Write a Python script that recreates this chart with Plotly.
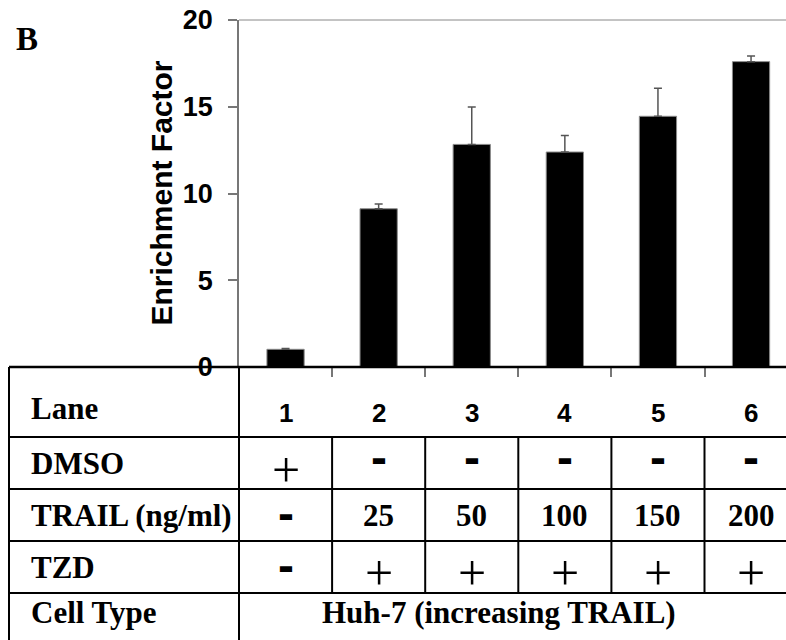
import plotly.graph_objects as go

# ---- data ----
lanes = ["1", "2", "3", "4", "5", "6"]
enrichment = [1.02, 9.12, 12.83, 12.39, 14.45, 17.6]
enrichment_err = [0.05, 0.27, 2.15, 0.96, 1.61, 0.33]
dmso = ["+", "-", "-", "-", "-", "-"]
trail = ["-", "25", "50", "100", "150", "200"]
tzd = ["-", "+", "+", "+", "+", "+"]
row_labels = ["Lane", "DMSO", "TRAIL (ng/ml)", "TZD", "Cell Type"]
cell_type = "Huh-7 (increasing TRAIL)"
y_ticks = [0, 5, 10, 15, 20]

W, H = 786, 640
L, R, T, B = 239, 0, 20, 273
PW, PH = W - L - R, H - T - B


def px(xp):
    return (xp - L) / PW


def py(yp):
    return (H - B - yp) / PH


fig = go.Figure()
fig.add_trace(go.Bar(
    x=lanes, y=enrichment, width=0.4,
    marker=dict(color="black", line=dict(color="#8a8a8a", width=1)),
    error_y=dict(type="data", array=enrichment_err, symmetric=False,
                 arrayminus=[0] * len(lanes), color="#555555",
                 thickness=1.5, width=4),
    showlegend=False,
))

shapes = []
black = "black"
shapes.append(dict(type="line", xref="paper", yref="paper", x0=px(9), x1=1,
                   y0=0, y1=0, line=dict(color=black, width=2.5)))
shapes.append(dict(type="line", xref="paper", yref="paper", x0=0, x1=1,
                   y0=1, y1=1, line=dict(color="#888888", width=1)))
for yp in [437, 489, 541, 593]:
    shapes.append(dict(type="line", xref="paper", yref="paper", x0=px(9), x1=1,
                       y0=py(yp), y1=py(yp), line=dict(color=black, width=2)))
shapes.append(dict(type="line", xref="paper", yref="paper", x0=px(9), x1=px(9),
                   y0=0, y1=py(645), line=dict(color=black, width=2)))
shapes.append(dict(type="line", xref="paper", yref="paper", x0=0, x1=0,
                   y0=0, y1=py(645), line=dict(color=black, width=2)))
for i in range(len(lanes) - 1):
    shapes.append(dict(type="line", xref="x", yref="paper", x0=i + 0.5, x1=i + 0.5,
                       y0=py(437), y1=py(593), line=dict(color=black, width=2)))

annotations = []
label_y = [408, 463, 515, 567, 612]
for lab, yp in zip(row_labels, label_y):
    annotations.append(dict(xref="paper", yref="paper", x=px(29), y=py(yp),
                            xanchor="left", yanchor="middle", text="<b>%s</b>" % lab,
                            showarrow=False,
                            font=dict(family="Liberation Serif", size=31, color="black")))

for i, ln in enumerate(lanes):
    annotations.append(dict(xref="x", yref="paper", x=i, y=py(413),
                            xanchor="center", yanchor="middle", text="<b>%s</b>" % ln,
                            showarrow=False,
                            font=dict(family="Liberation Sans", size=26, color="black")))


def cell(i, val, yc, dash_shift=-2):
    if val == "+":
        return dict(xref="x", yref="paper", x=i, y=py(yc + 6), xanchor="center",
                    yanchor="middle", text="+", showarrow=False, height=40,
                    font=dict(family="Liberation Serif", size=50, color="black"))
    if val == "-":
        return dict(xref="x", yref="paper", x=i, y=py(yc + dash_shift), xanchor="center",
                    yanchor="middle", text="<b>-</b>", showarrow=False, height=26,
                    font=dict(family="Liberation Sans", size=48, color="black"))
    return dict(xref="x", yref="paper", x=i, y=py(yc), xanchor="center",
                yanchor="middle", text="<b>%s</b>" % val, showarrow=False,
                font=dict(family="Liberation Serif", size=31, color="black"))


for i, v in enumerate(dmso):
    annotations.append(cell(i, v, 464, dash_shift=-7))
for i, v in enumerate(trail):
    annotations.append(cell(i, v, 515))
for i, v in enumerate(tzd):
    annotations.append(cell(i, v, 567))

annotations.append(dict(xref="paper", yref="paper", x=px(499), y=py(612),
                        xanchor="center", yanchor="middle", text="<b>%s</b>" % cell_type,
                        showarrow=False,
                        font=dict(family="Liberation Serif", size=31, color="black")))

annotations.append(dict(xref="paper", yref="paper", x=px(14), y=py(39),
                        xanchor="left", yanchor="middle", text="<b>B</b>", showarrow=False,
                        font=dict(family="Liberation Serif", size=33, color="black")))
annotations.append(dict(xref="paper", yref="paper", x=px(161), y=0.5,
                        xanchor="center", yanchor="middle", textangle=-90,
                        text="<b>Enrichment Factor</b>", showarrow=False,
                        font=dict(family="Liberation Sans", size=30, color="black")))

fig.update_layout(
    width=W, height=H, autosize=False,
    margin=dict(l=L, r=R, t=T, b=B, pad=0),
    paper_bgcolor="white", plot_bgcolor="white",
    shapes=shapes, annotations=annotations,
    xaxis=dict(type="category", range=[-0.5, -0.5 + PW / 93.1],
               showgrid=False, zeroline=False, showline=False,
               showticklabels=False, ticks="outside", tickson="boundaries",
               ticklen=9, tickwidth=1.5, tickcolor="#777777"),
    yaxis=dict(range=[0, 20], tickvals=y_ticks, showgrid=False, zeroline=False,
               showline=True, linecolor="#777777", linewidth=1.5,
               ticks="outside", ticklen=9, tickwidth=1.5, tickcolor="#777777",
               ticklabelstandoff=10,
               tickfont=dict(family="Liberation Sans", size=27, color="black", weight="bold")),
)

fig.write_html("out.html", config={"displayModeBar": False},
               post_script="document.body.style.margin='0';")
